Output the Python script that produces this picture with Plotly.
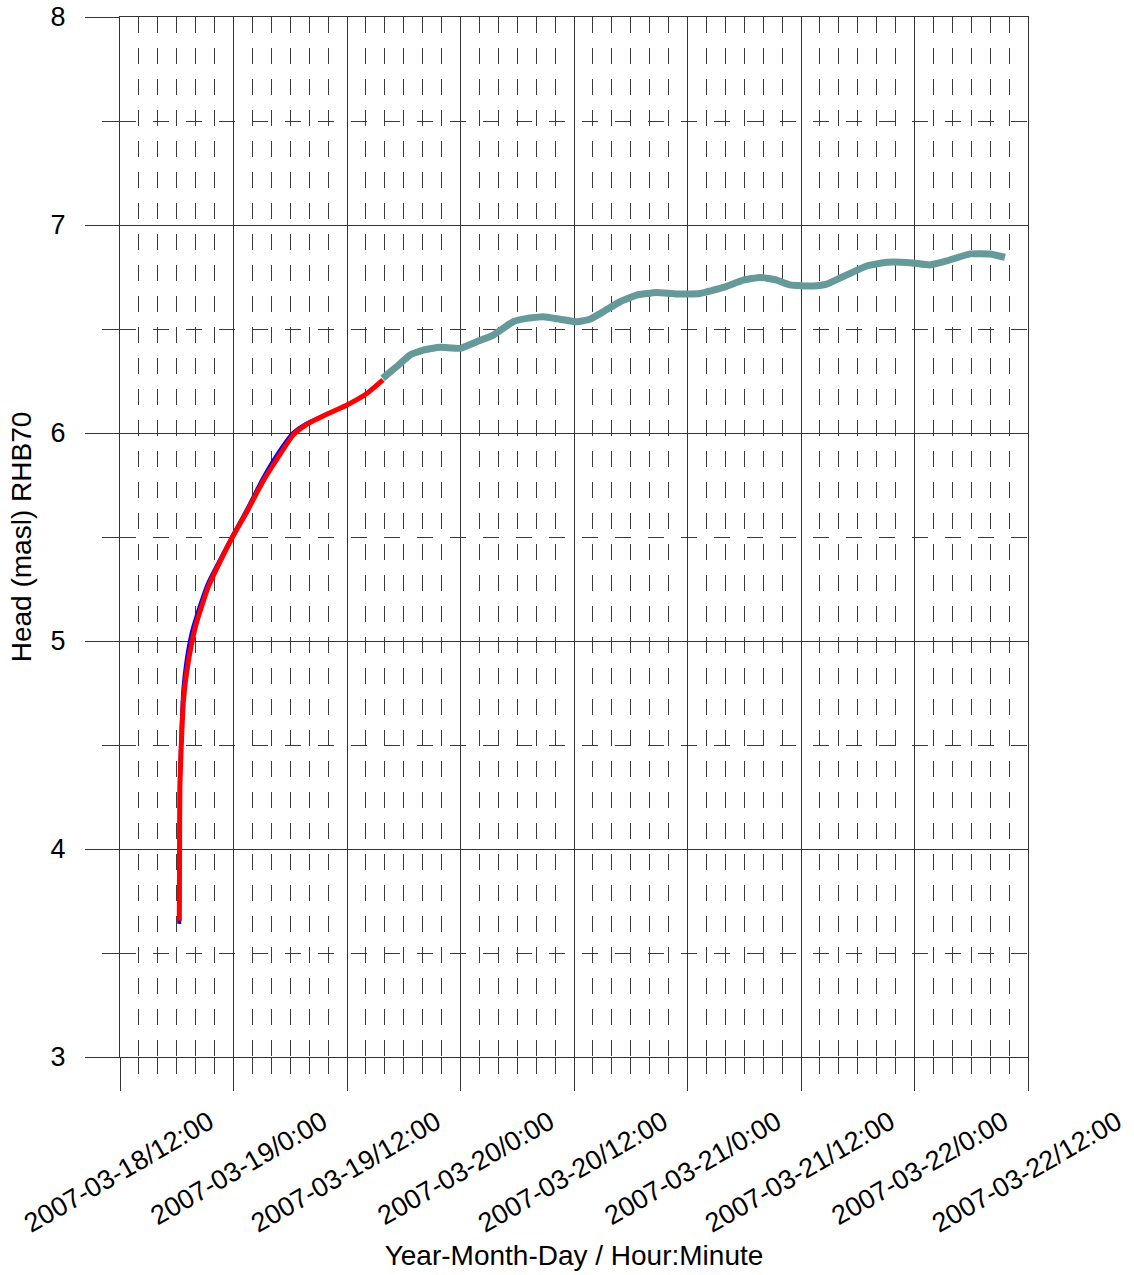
import plotly.graph_objects as go

# ---------------- data ----------------
blue_time = ["2007-03-18 18:16", "2007-03-18 18:20", "2007-03-18 18:31", "2007-03-18 18:42",
             "2007-03-18 19:03", "2007-03-18 19:35", "2007-03-18 20:06", "2007-03-18 21:20",
             "2007-03-18 22:34", "2007-03-18 23:54", "2007-03-19 01:24", "2007-03-19 03:09",
             "2007-03-19 04:36", "2007-03-19 06:18", "2007-03-19 07:42", "2007-03-19 09:51"]
blue_head = [3.64, 4.33, 4.59, 4.77, 4.91, 5.04, 5.12, 5.28, 5.39, 5.505, 5.63, 5.785,
             5.895, 6.00, 6.045, 6.09]

red_time = ["2007-03-18 18:16", "2007-03-18 18:18", "2007-03-18 18:20", "2007-03-18 18:31",
            "2007-03-18 18:42", "2007-03-18 19:03", "2007-03-18 19:35", "2007-03-18 20:06",
            "2007-03-18 21:20", "2007-03-18 22:34", "2007-03-18 23:54", "2007-03-19 01:24",
            "2007-03-19 03:09", "2007-03-19 04:36", "2007-03-19 06:18", "2007-03-19 07:42",
            "2007-03-19 09:51", "2007-03-19 12:00", "2007-03-19 14:06", "2007-03-19 15:48"]
red_head = [3.655, 4.00, 4.30, 4.54, 4.71, 4.85, 4.99, 5.09, 5.26, 5.38, 5.50, 5.62,
            5.77, 5.875, 5.99, 6.04, 6.09, 6.135, 6.19, 6.255]

teal_time = ["2007-03-19 15:46", "2007-03-19 17:15", "2007-03-19 18:40", "2007-03-19 20:04",
             "2007-03-19 21:50", "2007-03-19 23:57", "2007-03-20 01:43", "2007-03-20 03:28",
             "2007-03-20 05:35", "2007-03-20 07:00", "2007-03-20 08:46", "2007-03-20 10:31",
             "2007-03-20 12:17", "2007-03-20 13:41", "2007-03-20 15:06", "2007-03-20 16:52",
             "2007-03-20 18:38", "2007-03-20 20:44", "2007-03-20 22:52", "2007-03-21 01:18",
             "2007-03-21 03:48", "2007-03-21 05:54", "2007-03-21 07:40", "2007-03-21 09:26",
             "2007-03-21 10:50", "2007-03-21 13:18", "2007-03-21 14:43", "2007-03-21 16:50",
             "2007-03-21 18:57", "2007-03-21 21:04", "2007-03-21 23:31", "2007-03-22 01:38",
             "2007-03-22 03:24", "2007-03-22 05:52", "2007-03-22 07:59", "2007-03-22 09:34"]
teal_head = [6.263, 6.319, 6.375, 6.399, 6.412, 6.407, 6.439, 6.471, 6.535, 6.551,
             6.559, 6.547, 6.535, 6.547, 6.583, 6.631, 6.663, 6.676, 6.668, 6.671,
             6.700, 6.735, 6.748, 6.735, 6.712, 6.707, 6.716, 6.760, 6.803, 6.821,
             6.819, 6.808, 6.827, 6.861, 6.861, 6.845]

x_tick_vals = ["2007-03-18 12:00", "2007-03-19 00:00", "2007-03-19 12:00", "2007-03-20 00:00",
               "2007-03-20 12:00", "2007-03-21 00:00", "2007-03-21 12:00", "2007-03-22 00:00",
               "2007-03-22 12:00"]
x_tick_text = ["2007-03-18/12:00", "2007-03-19/0:00", "2007-03-19/12:00", "2007-03-20/0:00",
               "2007-03-20/12:00", "2007-03-21/0:00", "2007-03-21/12:00", "2007-03-22/0:00",
               "2007-03-22/12:00"]
y_tick_vals = [3, 4, 5, 6, 7, 8]

# ---------------- figure ----------------
FONT = "Liberation Sans, Arial, sans-serif"
MAJOR = "#333333"
MINOR = "#3a3a3a"

fig = go.Figure()
fig.add_trace(go.Scatter(x=blue_time, y=blue_head, mode="lines",
                         line=dict(color="#0000FF", width=4, shape="spline", smoothing=0.5),
                         showlegend=False))
fig.add_trace(go.Scatter(x=red_time, y=red_head, mode="lines",
                         line=dict(color="#FF0000", width=5, shape="spline", smoothing=0.5),
                         showlegend=False))
fig.add_trace(go.Scatter(x=teal_time, y=teal_head, mode="lines",
                         line=dict(color="#669999", width=7, shape="spline", smoothing=0.4),
                         showlegend=False))

fig.update_layout(
    width=1134, height=1275,
    margin=dict(l=120, r=106, t=17, b=218, autoexpand=False),
    plot_bgcolor="white", paper_bgcolor="white",
    font=dict(family=FONT, size=27, color="black"),
    showlegend=False,
)

fig.update_xaxes(
    type="date", range=[x_tick_vals[0], x_tick_vals[-1]],
    tickmode="array", tickvals=x_tick_vals, ticktext=x_tick_text,
    tickangle=-30, tickfont=dict(size=27), ticklabeloverflow="allow",
    ticks="outside", ticklen=33, tickwidth=1, tickcolor=MAJOR,
    ticklabelshift=89, ticklabelstandoff=5,
    showgrid=True, gridcolor=MAJOR, gridwidth=1,
    showline=True, linecolor=MAJOR, linewidth=1, mirror=True,
    zeroline=False, automargin=False,
    minor=dict(dtick=7200000, tick0=x_tick_vals[0], ticks="outside", ticklen=16,
               tickwidth=1, tickcolor=MINOR, showgrid=True, gridcolor=MINOR,
               gridwidth=1, griddash="16px,15px"),
    title=dict(text="Year-Month-Day / Hour:Minute", font=dict(size=28), standoff=8),
)

fig.update_yaxes(
    range=[3, 8], tickmode="array", tickvals=y_tick_vals,
    tickfont=dict(size=27), ticklabeloverflow="allow",
    ticks="outside", ticklen=34, tickwidth=1, tickcolor=MAJOR,
    ticklabelstandoff=14,
    showgrid=True, gridcolor=MAJOR, gridwidth=1,
    showline=True, linecolor=MAJOR, linewidth=1, mirror=True,
    zeroline=False, automargin=False,
    minor=dict(dtick=0.5, tick0=3, ticks="outside", ticklen=17,
               tickwidth=1, tickcolor=MINOR, showgrid=True, gridcolor=MINOR,
               gridwidth=1, griddash="16px,17px"),
    title=dict(text="Head (masl) RHB70", font=dict(size=28), standoff=10),
)

fig.write_html("out.html", config={"displayModeBar": False},
               post_script="document.body.style.margin='0';")
